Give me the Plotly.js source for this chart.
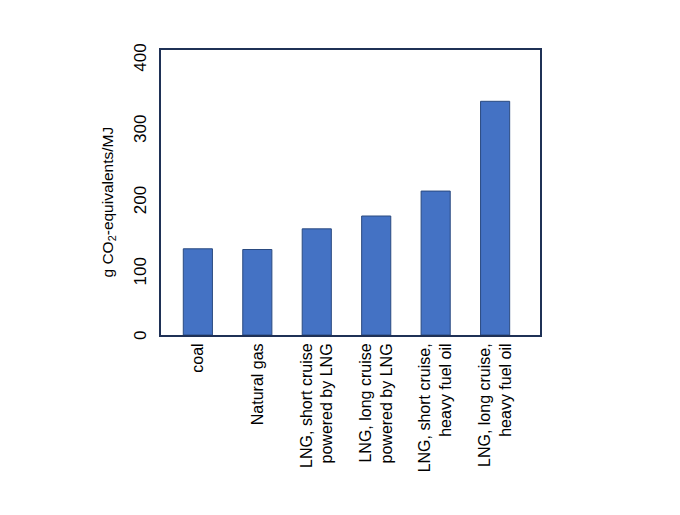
<!DOCTYPE html>
<html>
<head>
<meta charset="utf-8">
<script src="https://cdn.plot.ly/plotly-3.0.1.min.js"></script>
<style>
  html, body { margin: 0; padding: 0; background: #fff; }
  #plot { width: 680px; height: 515px; }
</style>
</head>
<body>
<div id="plot"></div>
<script>
// categories (line breaks as in the original labels)
const categories = [
  'coal',
  'Natural gas',
  'LNG, short cruise<br>powered by LNG',
  'LNG, long cruise<br>powered by LNG',
  'LNG, short cruise,<br>heavy fuel oil',
  'LNG, long cruise,<br>heavy fuel oil'
];

// g CO2-equivalents per MJ
const emissions = [121, 120, 149, 167, 202, 328];

const yTicks = [0, 100, 200, 300, 400];
// the labels sit just under their ticks in the original; pad the single digit so it lines up
const yTickText = ['\u00a0\u00a0\u00a00', '100', '200', '300', '400'];

const frameColor = '#1f3156';
const font_family = 'Liberation Sans, Arial, sans-serif';

const trace = {
  x: categories,
  y: emissions,
  type: 'bar',
  width: 0.49,
  marker: {
    color: '#4472c4',
    line: { color: '#2a4a80', width: 1 }
  },
  hoverinfo: 'x+y'
};

const layout = {
  width: 680,
  height: 515,
  margin: { l: 161, r: 140, t: 50, b: 180 },
  paper_bgcolor: '#ffffff',
  plot_bgcolor: '#ffffff',
  showlegend: false,
  font: { family: font_family, color: '#000000', size: 15 },
  xaxis: {
    type: 'category',
    range: [-0.62, 5.755],
    tickangle: -90,
    ticks: '',
    ticklen: 0,
    tickfont: { size: 16, family: font_family, color: '#000000' },
    showline: true,
    linecolor: frameColor,
    linewidth: 2,
    mirror: true,
    showgrid: false,
    zeroline: false,
    fixedrange: true
  },
  yaxis: {
    range: [0, 400],
    tickvals: yTicks,
    ticktext: yTickText,
    tickangle: -90,
    ticklabelshift: 10,
    ticks: 'outside',
    ticklen: 6,
    tickcolor: '#ffffff',
    tickfont: { size: 17, family: font_family, color: '#000000' },
    showline: true,
    linecolor: frameColor,
    linewidth: 2,
    mirror: true,
    showgrid: false,
    zeroline: false,
    fixedrange: true
  },
  annotations: [{
    // y axis title, drawn a little below the middle as in the original
    text: 'g CO<sub>2</sub>-equivalents/MJ',
    xref: 'paper',
    yref: 'paper',
    x: 0,
    y: 0.5,
    xanchor: 'center',
    yanchor: 'middle',
    xshift: -53,
    yshift: -10,
    textangle: -90,
    showarrow: false,
    font: { size: 15.5, family: font_family, color: '#000000' }
  }]
};

Plotly.newPlot('plot', [trace], layout, { displayModeBar: false, staticPlot: true });
</script>
</body>
</html>
